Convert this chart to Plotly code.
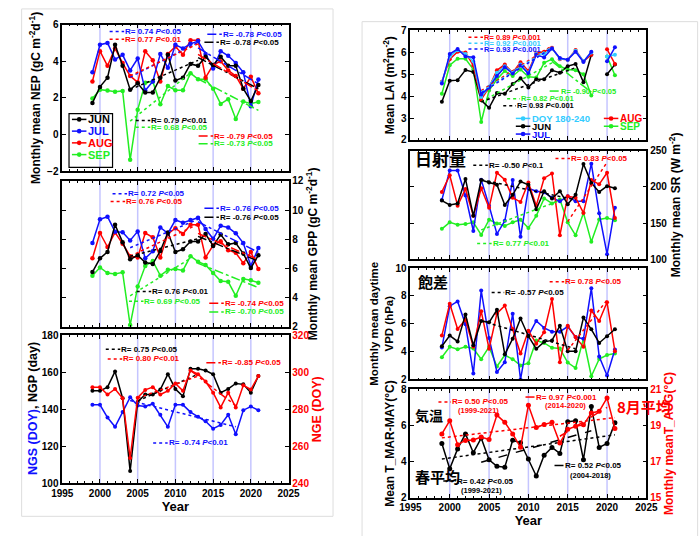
import plotly.graph_objects as go

W, H = 699, 536
FONT = "Liberation Sans, Arial, sans-serif"
CJK = "Noto Sans CJK JP"

BLACK, BLUE, RED, GREEN, CYAN = "#000000", "#1010ff", "#ff0000", "#22ee22", "#33ccff"
VLINE = "rgba(150,150,255,0.55)"

years = list(range(1999, 2022))
vline_years = [2000, 2005, 2010, 2015, 2020]

# ---------------- data ----------------
nep_jun = [1.72, 2.6, 3.1, 4.9, 3.75, 2.45, 2.8, 2.3, 2.3, 3.1, 4.35, 2.95, 3.1, 3.85, 3.75, 4.25, 3.8, 4.25, 3.75, 3.75, 2.5, 1.83, 2.7]
nep_jul = [3.4, 4.9, 5.0, 4.1, 4.35, 3.5, 4.15, 2.4, 2.9, 4.4, 3.65, 4.9, 4.7, 4.95, 5.1, 4.4, 3.6, 4.55, 4.3, 3.9, 3.4, 1.55, 3.0]
nep_aug = [2.9, 4.55, 3.75, 4.7, 3.9, 3.2, 2.85, 4.55, 4.05, 2.9, 4.4, 4.8, 4.35, 5.15, 5.15, 3.1, 3.8, 4.0, 3.5, 3.2, 2.5, 3.15, 2.25]
nep_sep = [1.97, 2.45, 2.4, 2.33, 2.38, -1.38, 1.35, 2.82, 2.9, 1.65, 2.65, 2.42, 2.42, 3.35, 3.02, 3.02, 2.5, 1.67, 1.93, 0.85, 1.8, 1.7, 1.78]

gpp_jun = [5.75, 6.69, 7.13, 8.99, 7.8, 6.62, 6.9, 6.4, 6.3, 7.2, 8.47, 7.13, 7.31, 7.85, 7.85, 8.36, 7.54, 8.32, 7.65, 7.74, 7.02, 6.02, 6.91]
gpp_jul = [7.74, 9.37, 9.55, 8.52, 8.48, 7.92, 8.54, 6.69, 7.18, 8.81, 8.41, 9.32, 9.14, 9.32, 9.48, 8.7, 8.03, 8.92, 8.81, 8.41, 7.74, 6.17, 7.4]
gpp_aug = [6.69, 8.43, 7.47, 8.47, 7.69, 6.84, 6.75, 8.43, 8.14, 6.75, 8.36, 8.76, 8.36, 8.99, 8.99, 6.75, 7.58, 7.87, 7.25, 7.07, 6.35, 7.13, 5.95]
gpp_sep = [5.5, 6.06, 5.68, 5.62, 5.73, 2.11, 4.75, 6.17, 6.51, 5.5, 5.9, 5.95, 5.86, 6.84, 6.46, 6.24, 5.68, 5.13, 5.08, 4.12, 5.28, 5.19, 5.01]

ngp = [150, 150, 152, 160.5, 146, 106.5, 144, 148, 148, 150.7, 159, 151, 147, 162, 162, 161, 159, 149, 151, 154, 153.5, 149, 158]
ngs = [142.4, 142.4, 135.5, 130.5, 138.5, 146.5, 142, 141.5, 143, 137, 130.5, 142.4, 142.4, 138.5, 136, 133.5, 129.5, 131.5, 137, 126.5, 139.5, 141.5, 139.5]
nge = [292, 292, 288, 291, 286, 253.6, 286.3, 290.5, 292, 288, 290, 294, 290, 301, 299, 295, 289, 281, 289, 281, 293, 290.7, 298]

lai_jun = [3.74, 4.7, 4.73, 5.19, 5.1, 3.81, 3.47, 4.14, 4.11, 4.55, 4.82, 4.4, 4.77, 4.77, 5.18, 5.07, 5.37, 5.47, 4.63, 5.89, None, 5.0, 5.44]
lai_jul = [4.58, 5.92, 6.15, 5.81, 5.78, 4.08, 4.4, 4.92, 5.32, 5.03, 5.4, 5.03, 5.89, 5.77, 6.18, 5.74, 5.66, 6.03, 5.56, 6.03, None, 5.59, 6.23]
lai_aug = [4.66, 5.69, 6.03, 5.99, 5.4, 3.84, 4.4, 5.18, 5.44, 5.07, 5.55, 5.15, 5.96, 6.03, 6.21, 5.69, 5.66, 6.11, 5.59, 5.89, None, 6.14, 5.47]
lai_doy = [4.63, 5.81, 6.1, 5.92, 5.59, 3.96, 4.43, 5.07, 5.37, 5.07, 5.44, 5.07, 5.92, 5.92, 6.18, 5.71, 5.66, 6.07, 5.59, 5.99, None, 5.81, 5.89]
lai_sep = [4.11, 5.41, 5.71, 5.71, 5.22, 2.82, 4.26, 4.77, 5.15, 4.92, 5.22, 4.88, 4.85, 5.52, 5.69, 5.37, 5.22, 5.18, 5.0, 4.03, None, 5.81, 4.95]

sr_jun = [181, 175, 177, 211, 160, 209.5, 206, 203, 175, 189, 207.5, 203, 169, 194, 184, 194, 176, 189, 231.5, 205.5, 193, 201, 198]
sr_jul = [182, 222.5, 222.5, 188, 139, 210, 174, 135, 153, 209.5, 131, 198, 194, 192.5, 185, 180, 187, 180, 180, 232, 163.5, 107, 171]
sr_aug = [193, 216, 174, 197, 160, 198, 171, 219.5, 210, 185, 179, 206, 174, 212, 218.5, 133, 187, 185, 164, 209.5, 203.5, 219.5, 157]
sr_sep = [142, 151, 147.5, 148.5, 151, 133.5, 154.5, 149.5, 146, 151, 154.5, 143, 160, 184, 177, 182.5, 151, 133, 164, 124, 155, 157, 154]

vpd_jun = [4.38, 5.15, 4.73, 6.67, 4.45, 6.2, 6.1, 7.0, 3.8, 4.92, 6.37, 5.1, 4.2, 4.7, 4.8, 5.85, 4.03, 4.03, 6.44, 5.6, 4.62, 5.1, 5.6]
vpd_jul = [4.29, 7.26, 7.6, 5.97, 2.42, 8.38, 4.97, 2.54, 3.24, 6.72, 2.0, 5.15, 6.2, 5.7, 5.43, 5.43, 5.8, 5.04, 4.92, 8.54, 3.64, 2.28, 4.15]
vpd_aug = [5.15, 7.44, 5.62, 6.28, 4.34, 6.9, 4.2, 6.74, 7.3, 5.62, 3.87, 5.5, 4.57, 5.39, 7.77, 3.24, 5.85, 5.04, 4.34, 6.95, 6.2, 7.54, 4.03]
vpd_sep = [3.59, 4.34, 4.17, 4.34, 4.22, 3.45, 4.34, 2.93, 3.75, 3.45, 3.0, 3.17, 4.8, 4.62, 4.27, 4.22, 3.21, 2.82, 4.92, 2.23, 3.47, 3.75, 3.87]

t_mam = [5.0, 3.6, 4.7, 5.53, 4.49, 5.3, 4.1, 3.74, 3.69, 5.18, 5.04, 4.14, 3.2, 4.35, 4.78, 4.45, 6.2, 6.25, 4.1, 7.04, 4.78, 5.0, 6.14]
t_aug = [18.53, 19.26, 17.93, 18.17, 18.19, 18.36, 18.22, 19.57, 19.17, 18.53, 17.79, 20.12, 18.88, 19.05, 19.17, 18.02, 18.78, 18.95, 19.03, 19.69, 19.78, 20.52, 18.83]

# trend lines: (start year, end year), (start value, end value)
nep_tr_jul_up = ([2004, 2013], [3.13, 5.03]);  nep_tr_aug_up = ([2004, 2013], [3.2, 4.95])
nep_tr_jul_dn = ([2013, 2021], [4.73, 2.77]);  nep_tr_jun_dn = ([2013, 2021], [4.2, 2.5])
nep_tr_jun_up = ([2004, 2013], [2.45, 4.05]);  nep_tr_sep_up = ([2004, 2012], [0.73, 3.36])
nep_tr_aug_dn = ([2013, 2021], [4.37, 2.38]);  nep_tr_sep_dn = ([2013, 2021], [3.04, 1.32])

gpp_tr_jul_up = ([2004, 2013], [7.42, 9.37]);  gpp_tr_aug_up = ([2004, 2013], [6.84, 9.03])
gpp_tr_jul_dn = ([2013, 2021], [9.2, 7.1]);    gpp_tr_jun_dn = ([2013, 2021], [8.2, 6.5])
gpp_tr_jun_up = ([2004, 2013], [6.84, 8.03]);  gpp_tr_sep_up = ([2004, 2012], [4.12, 6.69])
gpp_tr_aug_dn = ([2013, 2021], [8.4, 6.6]);    gpp_tr_sep_dn = ([2013, 2021], [6.35, 4.68])

ngp_tr_up = ([2005, 2013], [144.5, 159]);  nge_tr_up = ([2005, 2013], [286, 298])
nge_tr_dn = ([2012, 2018], [301, 282]);    ngs_tr_dn = ([2004, 2018], [144.7, 130.5])

lai_tr_aug_up = ([2004, 2013], [4.25, 6.3]);  lai_tr_doy_up = ([2004, 2013], [4.2, 6.25])
lai_tr_jul_up = ([2004, 2013], [4.15, 6.2]);  lai_tr_sep_up = ([2004, 2013], [3.74, 5.52])
lai_tr_jun_up = ([2004, 2016], [3.74, 5.3]);  lai_tr_sep_dn = ([2013, 2018], [5.59, 4.18])

sr_tr_jun_dn = ([2004, 2016], [210, 182]);  sr_tr_sep_up = ([2004, 2014], [140.5, 181])
sr_tr_aug_up = ([2015, 2020], [152, 234])

vpd_tr_jun_dn = ([2004, 2016], [6.2, 4.2]);  vpd_tr_aug_up = ([2015, 2020], [4.1, 7.7])

t_tr_aug_all = ([1999, 2021], [18.31, 19.43]);  t_tr_aug_sub = ([2014, 2020], [18.4, 20.0])
t_tr_mam_all = ([1999, 2021], [4.14, 5.48]);    t_tr_mam_sub = ([2004, 2018], [3.96, 5.7])

# ---------------- figure ----------------
fig = go.Figure()


def series(x, y, color, xa, ya, size=5):
    fig.add_trace(go.Scatter(x=x, y=y, mode="lines+markers", xaxis=xa, yaxis=ya,
                             line=dict(color=color, width=1.5), marker=dict(color=color, size=size),
                             showlegend=False, connectgaps=False))


def trend(tr, color, dash, xa, ya):
    fig.add_trace(go.Scatter(x=tr[0], y=tr[1], mode="lines", xaxis=xa, yaxis=ya,
                             line=dict(color=color, width=1.5, dash=dash), showlegend=False))


# NEP
for v, c in [(nep_sep, GREEN), (nep_aug, RED), (nep_jul, BLUE), (nep_jun, BLACK)]:
    series(years, v, c, "x", "y", size=4.5)
for tr, c, d in [(nep_tr_jul_up, BLUE, "dot"), (nep_tr_aug_up, RED, "dot"), (nep_tr_jul_dn, BLUE, "dashdot"),
                 (nep_tr_jun_dn, BLACK, "dashdot"), (nep_tr_jun_up, BLACK, "dot"), (nep_tr_sep_up, GREEN, "dot"),
                 (nep_tr_aug_dn, RED, "dashdot"), (nep_tr_sep_dn, GREEN, "dashdot")]:
    trend(tr, c, d, "x", "y")

# GPP
for v, c in [(gpp_sep, GREEN), (gpp_aug, RED), (gpp_jul, BLUE), (gpp_jun, BLACK)]:
    series(years, v, c, "x2", "y2", size=4.5)
for tr, c, d in [(gpp_tr_jul_up, BLUE, "dot"), (gpp_tr_aug_up, RED, "dot"), (gpp_tr_jul_dn, BLUE, "dashdot"),
                 (gpp_tr_jun_dn, BLACK, "dashdot"), (gpp_tr_jun_up, BLACK, "dot"), (gpp_tr_sep_up, GREEN, "dot"),
                 (gpp_tr_aug_dn, RED, "dashdot"), (gpp_tr_sep_dn, GREEN, "dashdot")]:
    trend(tr, c, d, "x2", "y2")

# NGS/NGP/NGE
series(years, ngs, BLUE, "x3", "y3", size=4)
series(years, ngp, BLACK, "x3", "y3", size=4)
series(years, nge, RED, "x3", "y4", size=4)
trend(ngp_tr_up, BLACK, "dot", "x3", "y3")
trend(ngs_tr_dn, BLUE, "dot", "x3", "y3")
trend(nge_tr_up, RED, "dot", "x3", "y4")
trend(nge_tr_dn, RED, "dashdot", "x3", "y4")

# LAI
for v, c in [(lai_sep, GREEN), (lai_jun, BLACK), (lai_aug, RED), (lai_doy, CYAN), (lai_jul, BLUE)]:
    series(years, v, c, "x4", "y5", size=4)
for tr, c, d in [(lai_tr_aug_up, RED, "dot"), (lai_tr_doy_up, CYAN, "dot"), (lai_tr_jul_up, BLUE, "dot"),
                 (lai_tr_sep_up, GREEN, "dot"), (lai_tr_jun_up, BLACK, "dot"), (lai_tr_sep_dn, GREEN, "dashdot")]:
    trend(tr, c, d, "x4", "y5")

# SR
for v, c in [(sr_sep, GREEN), (sr_jul, BLUE), (sr_aug, RED), (sr_jun, BLACK)]:
    series(years, v, c, "x5", "y6", size=4)
for tr, c, d in [(sr_tr_jun_dn, BLACK, "dot"), (sr_tr_sep_up, GREEN, "dot"), (sr_tr_aug_up, RED, "dot")]:
    trend(tr, c, d, "x5", "y6")

# VPD
for v, c in [(vpd_sep, GREEN), (vpd_jul, BLUE), (vpd_aug, RED), (vpd_jun, BLACK)]:
    series(years, v, c, "x6", "y7", size=4)
for tr, c, d in [(vpd_tr_jun_dn, BLACK, "dot"), (vpd_tr_aug_up, RED, "dot")]:
    trend(tr, c, d, "x6", "y7")

# Temperature
series(years, t_aug, RED, "x7", "y9", size=5)
series(years, t_mam, BLACK, "x7", "y8", size=5)
trend(t_tr_aug_all, RED, "dot", "x7", "y9")
trend(t_tr_aug_sub, RED, "dash", "x7", "y9")
trend(t_tr_mam_all, BLACK, "dot", "x7", "y8")
trend(t_tr_mam_sub, BLACK, "dash", "x7", "y8")

# ---------------- layout ----------------
def dom_x(a, b):
    return [a / W, b / W]


def dom_y(top, bottom):
    return [1 - bottom / H, 1 - top / H]


tickfont = dict(family=FONT, size=10, color="black", weight="bold")
titlefont = dict(family=FONT, size=12, color="black", weight="bold")
base = dict(showline=True, linecolor="black", linewidth=1.5, ticks="inside", ticklen=4, tickwidth=1.2,
            tickcolor="black", showgrid=False, zeroline=False, tickfont=tickfont)


def xax(dom, anchor, labels, title=None):
    d = dict(base, domain=dom, anchor=anchor, range=[1995, 2025], tick0=1995, dtick=5, mirror="ticks",
             showticklabels=labels, minor=dict(ticks="inside", ticklen=2, dtick=1, tickcolor="black"))
    if title:
        d["title"] = dict(text=title, font=dict(family=FONT, size=13, color="black", weight="bold"), standoff=2)
    return d


def yax(dom, anchor, rng, dtick, side="left", title=None, mirror="ticks", color="black", labels=True,
        standoff=4, tsize=12):
    d = dict(base, domain=dom, anchor=anchor, range=rng, dtick=dtick, tick0=rng[0], side=side, mirror=mirror,
             showticklabels=labels, tickfont=dict(tickfont, color=color))
    if title:
        d["title"] = dict(text=title, font=dict(titlefont, color=color, size=tsize), standoff=standoff)
    return d


LX = dom_x(53, 287)
RX = dom_x(413, 657)

layout = dict(
    width=W, height=H, margin=dict(l=0, r=0, t=0, b=0), paper_bgcolor="white", plot_bgcolor="white",
    showlegend=False, font=dict(family=FONT),
    xaxis=xax(LX, "y", False),
    yaxis=yax(dom_y(19, 169), "x", [-2, 6], 2, title="Monthly mean NEP (gC m<sup>-2</sup>d<sup>-1</sup>)"),
    xaxis2=xax(LX, "y2", False),
    yaxis2=yax(dom_y(179, 328), "x2", [2, 12], 2, side="right",
               title="Monthly mean GPP (gC m<sup>-2</sup>d<sup>-1</sup>)"),
    xaxis3=xax(LX, "y3", True, "Year"),
    yaxis3=yax(dom_y(337, 488), "x3", [100, 180], 20, mirror=False),
    yaxis4=yax(dom_y(337, 488), "x3", [240, 320], 20, side="right", mirror=False, color=RED, tsize=12.5,
               title="NGE (DOY)"),
    xaxis4=xax(RX, "y5", False),
    yaxis5=yax(dom_y(25, 137), "x4", [2, 7], 1, title="Mean LAI (m<sup>2</sup>m<sup>-2</sup>)"),
    xaxis5=xax(RX, "y6", False),
    yaxis6=yax(dom_y(148, 259), "x5", [100, 250], 50, side="right", title="Monthly mean SR (W m<sup>-2</sup>)"),
    xaxis6=xax(RX, "y7", False),
    yaxis7=yax(dom_y(268, 382), "x6", [2, 10], 2, standoff=0, tsize=11.5,
               title="Monthly mean daytime<br>VPD (hPa)"),
    xaxis7=xax(RX, "y8", True, "Year"),
    yaxis8=yax(dom_y(392, 503), "x7", [2, 8], 2, mirror=False, title="Mean T_MAR-MAY(°C)"),
    yaxis9=yax(dom_y(392, 503), "x7", [15, 21], 2, side="right", mirror=False, color=RED,
               title="Monthly meanT_AUG(°C)"),
)
layout["yaxis4"]["overlaying"] = "y3"
layout["yaxis9"]["overlaying"] = "y8"
fig.update_layout(**layout)

shapes = []
annotations = []

# vertical year lines
for xa, ya in [("x", "y"), ("x2", "y2"), ("x3", "y3"), ("x4", "y5"), ("x5", "y6"), ("x6", "y7"), ("x7", "y8")]:
    for yr in vline_years:
        shapes.append(dict(type="line", xref=xa, yref=ya + " domain", x0=yr, x1=yr, y0=0, y1=1,
                           line=dict(color=VLINE, width=1.5), layer="below"))

# panel frames
shapes.append(dict(type="rect", xref="paper", yref="paper", x0=11 / W, x1=333 / W, y0=1 - 522 / H, y1=1 - 3 / H,
                   line=dict(color="#dddddd", width=1)))
shapes.append(dict(type="rect", xref="paper", yref="paper", x0=363 / W, x1=710 / W, y0=-0.02, y1=1 - 16 / H,
                   line=dict(color="#dddddd", width=1)))


def px(x):
    return x / W


def py(y):
    return 1 - y / H


def seg(x0, x1, y, color, dash):
    shapes.append(dict(type="line", xref="paper", yref="paper", x0=px(x0), x1=px(x1), y0=py(y), y1=py(y),
                       line=dict(color=color, width=1.5, dash=dash)))


def txt(x, y, text, color, size=8, xanchor="left", family=FONT, angle=0):
    annotations.append(dict(xref="paper", yref="paper", x=px(x), y=py(y), text=text, showarrow=False,
                            xanchor=xanchor, yanchor="middle", borderpad=0, textangle=angle,
                            font=dict(family=family, size=size, color=color)))


def rlab(x, y, color, dash, r, p, seglen=15, size=8):
    seg(x, x + seglen, y, color, dash)
    txt(x + seglen, y, f"<b>R= {r} <i>P</i>&lt;{p}</b>", color, size=size)


def dot(x, y, color, r=2.3):
    shapes.append(dict(type="circle", xref="paper", yref="paper", xsizemode="pixel", ysizemode="pixel",
                       xanchor=px(x), yanchor=py(y), x0=-r, x1=r, y0=-r, y1=r, fillcolor=color,
                       line=dict(color=color, width=0)))


def leg(x, y, color, label, size=11, seglen=15):
    seg(x, x + seglen, y, color, "solid")
    dot(x + seglen / 2, y, color)
    txt(x + seglen + 1, y, f"<b>{label}</b>", color, size=size)


# left axis title of the NGS/NGP panel (two colours)
txt(23, 412, "<b><span style='color:#1010ff'>NGS (DOY)</span>, NGP (day)</b>", BLACK, size=12.5,
    xanchor="center", angle=-90)

# NEP labels
rlab(102, 26, BLUE, "dot", "0.74", "0.05")
rlab(102, 34, RED, "dot", "0.77", "0.01")
rlab(203, 29, BLUE, "dashdot", "-0.78", "0.05")
rlab(200, 37, BLACK, "dashdot", "-0.78", "0.05")
rlab(129, 117, BLACK, "dot", "0.79", "0.01")
rlab(129, 124, GREEN, "dot", "0.68", "0.05")
rlab(194, 133, RED, "dashdot", "-0.79", "0.05")
rlab(194, 141, GREEN, "dashdot", "-0.73", "0.05")
# NEP legend box
shapes.append(dict(type="rect", xref="paper", yref="paper", x0=px(60), x1=px(105), y0=py(165), y1=py(110),
                   line=dict(color="black", width=1.2)))
leg(63, 116, BLACK, "JUN")
leg(63, 128, BLUE, "JUL")
leg(63, 140, RED, "AUG")
leg(63, 152, GREEN, "SEP")

# GPP labels
rlab(105, 192, BLUE, "dot", "0.72", "0.05")
rlab(103, 200, RED, "dot", "0.76", "0.05")
rlab(200, 207, BLUE, "dashdot", "-0.76", "0.05")
rlab(200, 216, BLACK, "dashdot", "-0.76", "0.05")
rlab(130, 292, BLACK, "dot", "0.76", "0.01")
rlab(122, 302, GREEN, "dot", "0.69", "0.05")
rlab(205, 304, RED, "dashdot", "-0.74", "0.05")
rlab(205, 313, GREEN, "dashdot", "-0.70", "0.05")

# NGS/NGP/NGE labels
rlab(98, 351, BLACK, "dot", "0.75", "0.05")
rlab(100, 361, RED, "dot", "0.80", "0.01")
rlab(202, 365, RED, "dashdot", "-0.85", "0.05")
rlab(147, 447, BLUE, "dot", "-0.74", "0.01")

# LAI labels and legend
rlab(473, 32, RED, "dot", "0.89", "0.001", size=7.5)
rlab(473, 38, CYAN, "dot", "0.92", "0.001", size=7.5)
rlab(473, 44, BLUE, "dot", "0.93", "0.001", size=7.5)
rlab(557, 87, GREEN, "dashdot", "-0.90", "0.05", seglen=11, size=7.5)
rlab(513, 95, GREEN, "dot", "0.82", "0.01", seglen=13, size=7.5)
rlab(509, 102, BLACK, "dot", "0.93", "0.001", seglen=13, size=7.5)
leg(522, 115, CYAN, "DOY 180-240", size=9.5)
leg(522, 123, BLACK, "JUN", size=9.5)
leg(522, 131, BLUE, "JUL", size=9.5)
leg(613, 115, RED, "AUG", size=10)
leg(613, 123, GREEN, "SEP", size=10)

# SR labels
txt(417, 156, "<b>日射量</b>", BLACK, size=17, family=CJK)
rlab(478, 163, BLACK, "dot", "-0.50", "0.1")
rlab(563, 156, RED, "dot", "0.83", "0.05")
rlab(482, 243, GREEN, "dot", "0.77", "0.01")

# VPD labels
txt(420, 282, "<b>飽差</b>", BLACK, size=15, family=CJK)
rlab(557, 282, RED, "dot", "0.78", "0.05")
rlab(497, 293, BLACK, "dot", "-0.57", "0.05", seglen=13)

# Temperature labels
rlab(442, 405, RED, "dot", "0.50", "0.05", seglen=13)
txt(483, 414, "<b>(1999-2021)</b>", RED, size=7.5, xanchor="center")
rlab(532, 400, RED, "dash", "0.97", "0.001", seglen=10)
txt(573, 409, "<b>(2014-2020)</b>", RED, size=7.5, xanchor="center")
txt(626, 410, "<b>8月平均</b>", RED, size=15, family=CJK)
txt(417, 418, "<b>気温</b>", BLACK, size=14, family=CJK)
txt(417, 481, "<b>春平均</b>", BLACK, size=15, family=CJK)
rlab(447, 486, BLACK, "dot", "0.42", "0.05", seglen=13)
txt(487, 496, "<b>(1999-2021)</b>", BLACK, size=7.5, xanchor="center")
rlab(562, 470, BLACK, "dash", "0.52", "0.05", seglen=10)
txt(599, 480, "<b>(2004-2018)</b>", BLACK, size=7.5, xanchor="center")

fig.update_layout(shapes=shapes, annotations=annotations)
fig.write_html("out.html")
